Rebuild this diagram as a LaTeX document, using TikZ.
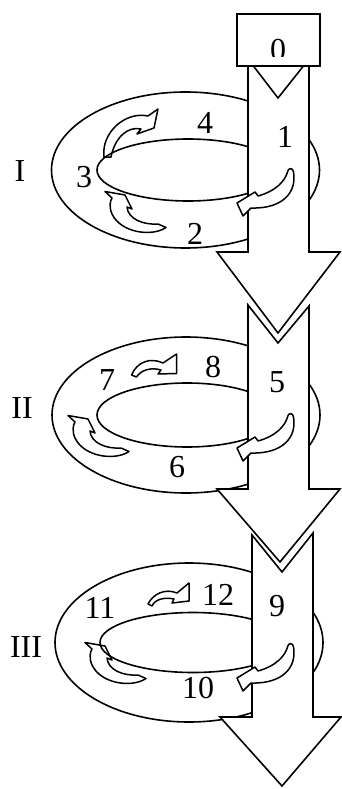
\documentclass[tikz,border=0pt]{standalone}
\usepackage{fontspec}
\setmainfont{Liberation Serif}
\begin{document}
\begin{tikzpicture}[x=1pt,y=-1pt,
  ln/.style={line width=1.6pt},
  ring/.style={ln, draw},
  bigarrow/.style={ln, draw, fill=white, line join=miter},
  carrow/.style={line width=1.5pt, draw, fill=white, line join=round},
  lbl/.style={font=\fontsize{32}{36}\selectfont, inner sep=0pt}]
\useasboundingbox (0,0) rectangle (342,789);

% ---- curved arrows on the rings (behind the ellipse lines)
% ring I
\path[carrow] (104,157) .. controls (101,133) and (125,111) .. (148,116) -- (158,109) -- (154,128) -- (137,134) -- (141,129) .. controls (128,126) and (115,137) .. (111,157) -- cycle;
\path[carrow] (105,191.5) -- (125,195) -- (132,209) -- (127,207) .. controls (128,219) and (143,225) .. (158,224) -- (166,227.5) .. controls (152,237) and (121,233) .. (112,214) .. controls (109,207) and (110,201) .. (112,198) -- cycle;
% ring II
\path[carrow] (131.5,375) .. controls (137,362) and (150,357) .. (163,363) -- (176.5,354) -- (176.5,373.5) -- (158,374) -- (161,370) .. controls (151,367) and (141,370) .. (136.5,377) -- cycle;
\begin{scope}[shift={(-37,224)}]
\path[carrow] (105,191.5) -- (125,195) -- (132,209) -- (127,207) .. controls (128,219) and (143,225) .. (158,224) -- (166,227.5) .. controls (152,237) and (121,233) .. (112,214) .. controls (109,207) and (110,201) .. (112,198) -- cycle;
\end{scope}
% ring III
\path[carrow] (148,604) .. controls (153,594) and (165,588) .. (177,593) -- (189,583) -- (189,601) -- (172,603) -- (174,599) .. controls (165,597) and (155,599) .. (152,606) -- cycle;
\begin{scope}[shift={(-20,451)}]
\path[carrow] (105,191.5) -- (125,195) -- (132,209) -- (127,207) .. controls (128,219) and (143,225) .. (158,224) -- (166,227.5) .. controls (152,237) and (121,233) .. (112,214) .. controls (109,207) and (110,201) .. (112,198) -- cycle;
\end{scope}

% ---- rings
\draw[ring] (185.5,170) ellipse [x radius=134pt, y radius=78pt];
\draw[ring] (188,170) ellipse [x radius=91pt, y radius=31pt];
\draw[ring] (186,415) ellipse [x radius=134pt, y radius=78pt];
\draw[ring] (187,415) ellipse [x radius=90pt, y radius=32pt];
\draw[ring] (189,642.5) ellipse [x radius=134pt, y radius=79.5pt];
\draw[ring] (193,642.5) ellipse [x radius=93pt, y radius=30pt];

% ---- big arrows
\path[bigarrow] (248,59) -- (278,98) -- (309,59) -- (309,252) -- (340,252) -- (278,333) -- (217,252) -- (248,252) -- cycle;
\path[bigarrow] (248,305) -- (278,343) -- (309,306) -- (309,489) -- (340,489) -- (280,562) -- (217,489) -- (248,489) -- cycle;
\path[bigarrow] (252,535) -- (282,572) -- (313,533) -- (313,717) -- (341,717) -- (282,786) -- (220,717) -- (252,717) -- cycle;

% ---- box 0
\node[ln, draw, fill=white, minimum width=83pt, minimum height=52pt, inner sep=0pt] (n0) at (278.5,40) {};
\begin{scope}
\clip (237,14) rectangle (320,57);
\node[lbl] (t0) at (278,50.5) {0};
\end{scope}

% ---- curved arrows in the shaft
\newcommand\shaftarrow{%
\path[carrow] (293.5,172) .. controls (297,192) and (283,209) .. (251,208) -- (243,216) -- (237,203) -- (255,192) -- (258,196) .. controls (276,191) and (285,181) .. (287.5,172) .. controls (288,167.5) and (293,167.5) .. (293.5,172) -- cycle;}
\shaftarrow
\begin{scope}[shift={(0,245)}]\shaftarrow\end{scope}
\begin{scope}[shift={(0,475)}]\shaftarrow\end{scope}

% ---- labels
\node[lbl] (lI) at (20,171) {I};
\node[lbl] (l3) at (84,177) {3};
\node[lbl] (l4) at (205,122.5) {4};
\node[lbl] (l1) at (285,137) {1};
\node[lbl] (l2) at (195,234) {2};
\node[lbl] (lII) at (22,408) {II};
\node[lbl] (l7) at (107,380) {7};
\node[lbl] (l8) at (213,367) {8};
\node[lbl] (l5) at (277,382) {5};
\node[lbl] (l6) at (177,467) {6};
\node[lbl] (lIII) at (26,647) {III};
\node[lbl] (l11) at (100,608) {11};
\node[lbl] (l12) at (218,595) {12};
\node[lbl] (l9) at (277,606) {9};
\node[lbl] (l10) at (198,688) {10};
\end{tikzpicture}
\end{document}
